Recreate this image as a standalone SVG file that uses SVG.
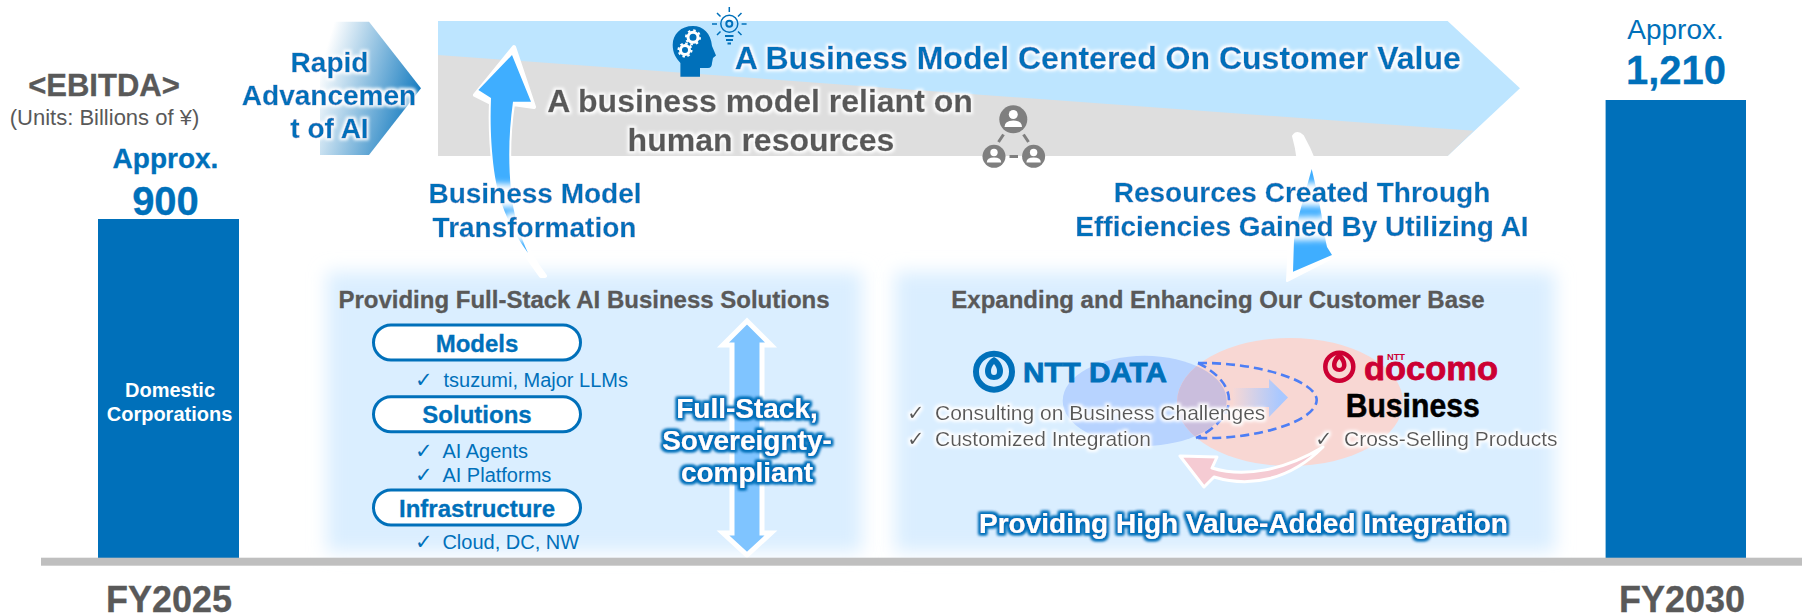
<svg xmlns="http://www.w3.org/2000/svg" width="1802" height="614" viewBox="0 0 1802 614">
<style>
text{font-family:"Liberation Sans",Arial,sans-serif}
.b{font-weight:700}
.m{text-anchor:middle}
.blue{fill:#0070BA}
.gray{fill:#595959}
.white{fill:#fff}
.b.blue{stroke:#0070BA;stroke-width:.3}
.b.gray{stroke:#595959;stroke-width:.3}
.ck{font-family:"DejaVu Sans",sans-serif;font-size:21px}
.item{font-size:20px}
.item2{font-size:21px}
.h24{font-size:24px}
.h28{font-size:28px}
.h32{font-size:32px}
.glow{filter:url(#gw)}
.glow2{filter:url(#gw2)}
.bglow{filter:url(#gb)}
.bar{fill:#0070BA}
.pill{fill:#fff;stroke:#0070BA;stroke-width:3}
.dash{fill:none;stroke:#4D7EF5;stroke-width:2.6;stroke-dasharray:9 5}
.pers{fill:#7F7F7F}
</style>
<defs>
<linearGradient id="chev" gradientUnits="userSpaceOnUse" x1="320" y1="70" x2="421" y2="100"><stop offset="0" stop-color="#fff"/><stop offset="1" stop-color="#0F78BE"/></linearGradient>
<linearGradient id="smallarrow" gradientUnits="userSpaceOnUse" x1="1233" y1="0" x2="1280" y2="0"><stop offset="0" stop-color="#F6D8D6"/><stop offset="1" stop-color="#A9C8FF"/></linearGradient>
<filter id="soft" x="-10%" y="-15%" width="120%" height="130%"><feGaussianBlur stdDeviation="9"/></filter>
<filter id="gw" x="-10%" y="-40%" width="120%" height="180%"><feMorphology in="SourceAlpha" operator="dilate" radius="1.5" result="d"/><feGaussianBlur in="d" stdDeviation="1.7" result="bl"/><feFlood flood-color="#fff" flood-opacity="0.95"/><feComposite in2="bl" operator="in" result="g"/><feMerge><feMergeNode in="g"/><feMergeNode in="SourceGraphic"/></feMerge></filter>
<filter id="gw2" x="-10%" y="-60%" width="120%" height="220%"><feMorphology in="SourceAlpha" operator="dilate" radius="4" result="d"/><feGaussianBlur in="d" stdDeviation="3" result="bl"/><feFlood flood-color="#fff"/><feComposite in2="bl" operator="in" result="g"/><feMerge><feMergeNode in="g"/><feMergeNode in="SourceGraphic"/></feMerge></filter>
<filter id="gb" x="-10%" y="-40%" width="120%" height="180%"><feMorphology in="SourceAlpha" operator="dilate" radius="1.7" result="d"/><feGaussianBlur in="d" stdDeviation="1.6" result="bl"/><feFlood flood-color="#0070BA"/><feComposite in2="bl" operator="in" result="g"/><feMerge><feMergeNode in="g"/><feMergeNode in="g"/><feMergeNode in="SourceGraphic"/></feMerge></filter>
<clipPath id="pinkclip"><ellipse cx="1290" cy="402" rx="113" ry="64"/></clipPath>
</defs>

<g id="panel-backgrounds">
<rect x="327" y="272" width="535" height="280" fill="#DAEEFF" filter="url(#soft)"/>
<rect x="895" y="272" width="660" height="280" fill="#DAEEFF" filter="url(#soft)"/>
</g>

<g id="node-banner">
<polygon points="438,21 1447.6,21 1520,88.3 1447.6,156 438,156" fill="#BDE5FF"/>
<polygon points="438,55 1473.6,130.7 1447.6,156 438,156" fill="#DEDEDE"/>
</g>

<g id="node-ai-chevron">
<polygon points="320,21.7 369,21.7 421,88.3 369,155 320,155" fill="url(#chev)"/>
</g>

<g id="node-overlap-ellipses">
<ellipse cx="1144.7" cy="400.8" rx="82" ry="45" fill="#B7D3FF"/>
<ellipse cx="1290" cy="402" rx="113" ry="64" fill="#F8D7D3"/>
<ellipse cx="1144.7" cy="400.8" rx="82" ry="45" fill="#CABEDD" clip-path="url(#pinkclip)"/>
</g>

<g id="connectors">
<path d="M541 276 C518 245 500 215 494 170 C491 145 490 125 491 103 L475 95 L514 47 L534 107 L513 104 C509 130 508 160 511 190 C514 220 525 250 545 276 Z" fill="#fff" stroke="#fff" stroke-width="4" stroke-linejoin="round"/>
<path d="M528 253 C508 225 498 200 494 170 C491 145 490 125 491 98 L478.4 90 L512 55 L531 101.7 L513 101.7 C509 130 508 160 511 190 C513 215 520 235 528 253 Z" fill="#3FAEFF"/>
<path d="M1293 136 C1297 150 1300 165 1298 200 L1289 240 L1287 281 L1340 254 L1332 240 C1330 210 1322 170 1303 136 Q1297 130 1293 136 Z" fill="#fff" stroke="#fff" stroke-width="2" stroke-linejoin="round"/>
<path d="M1311.7 169 C1318 195 1323 220 1325.5 240 L1327 247 L1332 255 L1293 271.7 L1294 240 C1298 215 1306 190 1311.7 169 Z" fill="#3FAEFF"/>
<polygon points="747,321 771,345 762,345 762,533 771,533 747,555 723,533 732,533 732,345 723,345" fill="#7FC4FF" stroke="#fff" stroke-width="5"/>
<path class="dash" d="M1198 363 C1255 362 1316 380 1316.7 400 C1316 422 1255 440 1196 438"/>
<path class="dash" d="M1198 363 C1216 372 1229 385 1229 400 C1229 415 1214 430 1196 438"/>
<polygon points="1233,388 1269,388 1269,379 1288,397.5 1269,417 1269,407 1233,407" fill="url(#smallarrow)"/>
<path d="M1180 456 L1217 457 L1212 468 C1245 478 1285 470 1323 447 C1290 480 1250 488 1214 477 L1204 487 Z" fill="#F5CBD3" stroke="#fff" stroke-width="3" stroke-linejoin="round"/>
</g>

<g id="node-ebitda">
<text class="b m gray" x="104" y="95.7" font-size="31">&lt;EBITDA&gt;</text>
<text class="m gray" x="104.500" y="125" font-size="22">(Units: Billions of ¥)</text>
</g>

<g id="node-fy2025">
<rect class="bar" x="98" y="219" width="141" height="339"/>
<text class="b m blue h28" x="165.500" y="168.300">Approx.</text>
<text class="b m blue" x="165.500" y="215" font-size="40">900</text>
<text class="b m white" x="170" y="396.700" font-size="20">Domestic</text>
<text class="b m white" x="169.500" y="420.700" font-size="20">Corporations</text>
<text class="b m gray" x="169" y="611.500" font-size="36">FY2025</text>
</g>

<g id="node-fy2030">
<rect class="bar" x="1605.600" y="100" width="140.400" height="458"/>
<text class="m blue h28" x="1675.500" y="39.300">Approx.</text>
<text class="b m blue" x="1676" y="84.300" font-size="40">1,210</text>
<text class="b m gray" x="1682" y="611.500" font-size="36">FY2030</text>
</g>

<g id="node-ai-label">
<text class="b m blue h28 glow" x="329.500" y="71.700">Rapid</text>
<text class="b m blue h28 glow" x="329" y="105">Advancemen</text>
<text class="b m blue h28 glow" x="329.500" y="138.300">t of AI</text>
</g>

<g id="node-banner-text">
<text class="b blue h32 glow" x="734.700" y="69.300">A Business Model Centered On Customer Value</text>
<text class="b m gray h32 glow" x="760" y="111.700">A business model reliant on</text>
<text class="b m gray h32 glow" x="761" y="150.700">human resources</text>
</g>

<g id="node-ai-icon" fill="#0070BA">
<path d="M680.400 76.700 L700 76.700 L700 68 L708 68 Q712 68 712 63 L713 58 L716 55.500 L712 46 C711 33 703 26 693 26 C681 26 672.700 34 672.700 45 C672.700 53 676 58 680.400 63 Z"/>
<circle cx="693" cy="37.300" r="5" fill="none" stroke="#fff" stroke-width="3"/>
<circle cx="693" cy="37.300" r="7" fill="none" stroke="#fff" stroke-width="2" stroke-dasharray="2.500 3"/>
<circle cx="685" cy="50" r="4.500" fill="none" stroke="#fff" stroke-width="3"/>
<circle cx="685" cy="50" r="6.500" fill="none" stroke="#fff" stroke-width="2" stroke-dasharray="2.500 2.500"/>
<circle cx="729.300" cy="23.700" r="8.500" fill="none" stroke="#0070BA" stroke-width="1.500"/>
<circle cx="729.300" cy="23.700" r="3" fill="none" stroke="#0070BA" stroke-width="2"/>
<path d="M725 36 L733.500 36 M726 40 L733 40 M727.500 43.500 L731 43.500" stroke="#0070BA" stroke-width="2" fill="none"/>
<path d="M729.300 7 V12 M712 24 H717 M741.600 24 H746.600 M717 13 L720.500 16.500 M741.500 13 L738 16.500 M717 35 L720.500 31.500 M741.500 35 L738 31.500" stroke="#0070BA" stroke-width="1.500" fill="none"/>
</g>

<g id="node-people-icon">
<circle class="pers" cx="1013.300" cy="119.300" r="14"/>
<circle class="pers" cx="994" cy="156.300" r="11.500"/>
<circle class="pers" cx="1033.600" cy="156.300" r="11.500"/>
<g fill="#fff">
<circle cx="1013.300" cy="114.500" r="4.500"/><path d="M1004.500 127 Q1004.500 120.500 1013.300 120.500 Q1022 120.500 1022 127 Z"/>
<circle cx="994" cy="152.500" r="3.700"/><path d="M986.800 162.500 Q986.800 157.500 994 157.500 Q1001.200 157.500 1001.200 162.500 Z"/>
<circle cx="1033.600" cy="152.500" r="3.700"/><path d="M1026.400 162.500 Q1026.400 157.500 1033.600 157.500 Q1040.800 157.500 1040.800 162.500 Z"/>
</g>
<path d="M998.500 142 L1003.500 134.500 M1023.500 134.500 L1028.500 142 M1009.500 156.500 H1018" stroke="#7F7F7F" stroke-width="3" fill="none"/>
</g>

<g id="node-transformation-label">
<text class="b m blue h28 glow2" x="535" y="203.300">Business Model</text>
<text class="b m blue h28 glow2" x="534.500" y="236.700">Transformation</text>
</g>

<g id="node-resources-label">
<text class="b m blue h28 glow2" x="1302" y="202.300">Resources Created Through</text>
<text class="b m blue h28 glow2" x="1302" y="236">Efficiencies Gained By Utilizing AI</text>
</g>

<g id="node-solutions">
<text class="b m gray h24" x="584" y="308.300">Providing Full-Stack AI Business Solutions</text>
<rect class="pill" x="373.500" y="325" width="207" height="35" rx="17.500"/>
<text class="b m blue h24" x="477" y="351.700">Models</text>
<text class="ck blue" x="415" y="386.700">✓</text>
<text class="blue item" x="443.500" y="386.700">tsuzumi, Major LLMs</text>
<rect class="pill" x="373.500" y="396.700" width="207" height="35" rx="17.500"/>
<text class="b m blue h24" x="477" y="422.700">Solutions</text>
<text class="ck blue" x="415" y="458.300">✓</text>
<text class="blue item" x="442.400" y="458.300">AI Agents</text>
<text class="ck blue" x="415" y="482.300">✓</text>
<text class="blue item" x="442.400" y="482.300">AI Platforms</text>
<rect class="pill" x="373.500" y="490" width="207" height="35" rx="17.500"/>
<text class="b m blue h24" x="477" y="516.700">Infrastructure</text>
<text class="ck blue" x="415" y="549">✓</text>
<text class="blue item" x="442.400" y="549">Cloud, DC, NW</text>
<text class="b m white h28 bglow" x="747" y="418.300">Full-Stack,</text>
<text class="b m white h28 bglow" x="747" y="450">Sovereignty-</text>
<text class="b m white h28 bglow" x="747" y="481.700">compliant</text>
</g>

<g id="node-customers">
<text class="b m gray h24" x="1218" y="308">Expanding and Enhancing Our Customer Base</text>
<text class="ck gray glow" x="907" y="420">✓</text>
<text class="gray item2 glow" x="935" y="420">Consulting on Business Challenges</text>
<text class="ck gray glow" x="907" y="446">✓</text>
<text class="gray item2 glow" x="935" y="446">Customized Integration</text>
<text class="ck gray glow" x="1315" y="445.700">✓</text>
<text class="gray item2 glow" x="1344" y="445.700">Cross-Selling Products</text>
<text class="b m white h28 bglow" x="1243.500" y="532.700">Providing High Value-Added Integration</text>
</g>

<g id="node-ntt-data">
<circle cx="994" cy="371.700" r="18" fill="none" stroke="#0070BA" stroke-width="6"/>
<path d="M994 357 C988 360 985 366 985 371 C985 377 989 380 994 380 C999 380 1003 377 1003 371 C1003 366 1000 360 994 357 Z M994 364 C996 366 997 369 997 371 C997 374 996 375 994 375 C992 375 991 374 991 371 C991 369 992 366 994 364 Z" fill="#0070BA" fill-rule="evenodd"/>
<text class="b blue" x="1023" y="381.700" font-size="28" textLength="144" lengthAdjust="spacingAndGlyphs" style="stroke-width:.8">NTT DATA</text>
</g>

<g id="node-docomo">
<circle cx="1339.300" cy="366.700" r="14" fill="none" stroke="#CC0033" stroke-width="4.500"/>
<path d="M1339.300 353 C1334 356 1332 361 1332 365 C1332 369 1335 372 1339.300 372 C1343.500 372 1346.500 369 1346.500 365 C1346.500 361 1344.500 356 1339.300 353 Z M1339.300 359 C1341 361 1342 363 1342 365 C1342 367 1341 368 1339.300 368 C1337.500 368 1336.500 367 1336.500 365 C1336.500 363 1337.500 361 1339.300 359 Z" fill="#CC0033" fill-rule="evenodd"/>
<text class="b" x="1364" y="380" font-size="34" fill="#CC0033" stroke="#CC0033" stroke-width="0.800" stroke-linejoin="round" textLength="134" lengthAdjust="spacingAndGlyphs">docomo</text>
<text class="b" x="1387" y="359.500" font-size="9" fill="#CC0033" textLength="18" lengthAdjust="spacingAndGlyphs">NTT</text>
<text class="b" x="1345.700" y="417.300" font-size="33" fill="#000" stroke="#000" stroke-width="0.500" textLength="134" lengthAdjust="spacingAndGlyphs">Business</text>
</g>

<g id="node-axis">
<rect x="41" y="557.700" width="1761" height="8" fill="#BFBFBF"/>
</g>
</svg>
